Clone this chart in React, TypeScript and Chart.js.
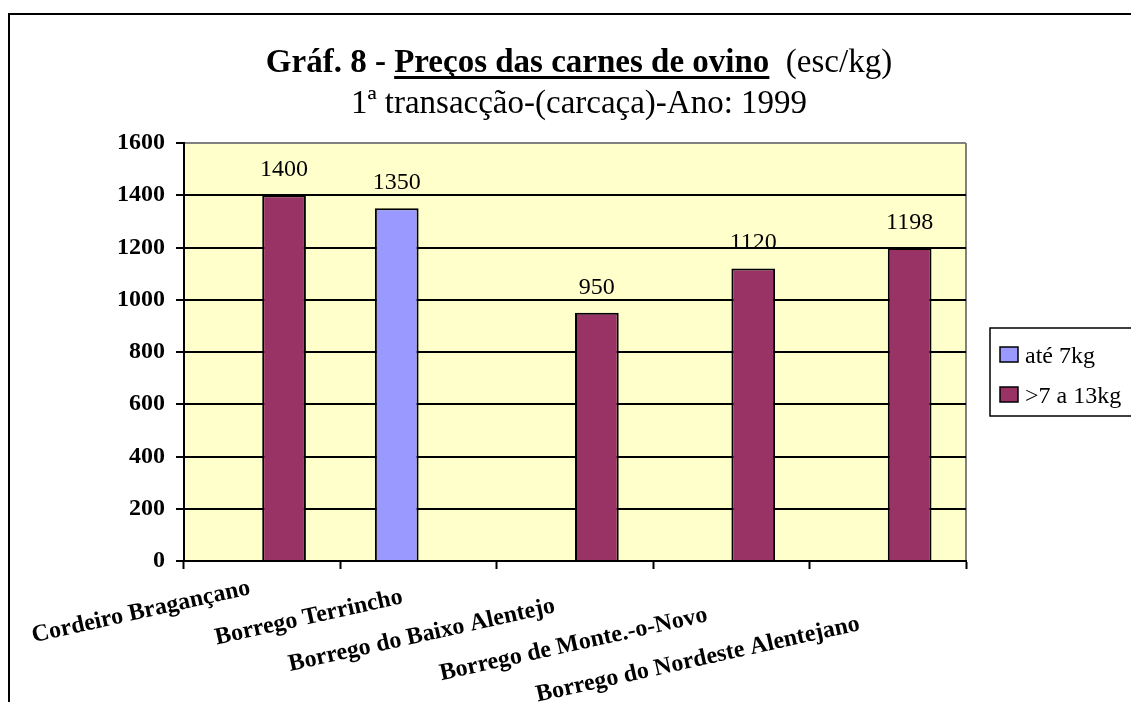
import React, { useEffect, useRef } from 'react';
import { Chart, registerables } from 'chart.js';

Chart.register(...registerables);

const categories = [
  'Cordeiro Bragançano',
  'Borrego Terrincho',
  'Borrego do Baixo Alentejo',
  'Borrego de Monte.-o-Novo',
  'Borrego do Nordeste Alentejano',
];
const seriesNames = ['até 7kg', '>7 a 13kg'];
const lightValues = [null, 1350, null, null, null];
const heavyValues = [1400, null, 950, 1120, 1198];
const yMin = 0;
const yMax = 1600;
const yStep = 200;
const titleBold = 'Gráf. 8 - ';
const titleUnderlined = 'Preços das carnes de ovino';
const titleNormal = '  (esc/kg)';
const subtitleText = '1ª transacção-(carcaça)-Ano: 1999';

const SERIF = '"Liberation Serif", "Times New Roman", serif';
const colors = ['#9999FF', '#993366'];

const decorPlugin = {
  id: 'decor',
  beforeDraw(chart: any) {
    const { ctx, chartArea: a } = chart;
    ctx.save();
    ctx.fillStyle = '#FFFFCC';
    ctx.fillRect(a.left, a.top, a.right - a.left, a.bottom - a.top);
    ctx.strokeStyle = '#808080';
    ctx.lineWidth = 2;
    ctx.beginPath();
    ctx.moveTo(a.right, a.top);
    ctx.lineTo(a.right, a.bottom);
    ctx.stroke();
    ctx.restore();
  },
  afterDatasetsDraw(chart: any) {
    const { ctx } = chart;
    ctx.save();
    ctx.font = `24px ${SERIF}`;
    ctx.fillStyle = '#000';
    ctx.textAlign = 'center';
    ctx.textBaseline = 'alphabetic';
    chart.data.datasets.forEach((ds: any, di: number) => {
      const meta = chart.getDatasetMeta(di);
      meta.data.forEach((el: any, i: number) => {
        const v = ds.data[i];
        if (v === null || v === undefined) return;
        ctx.fillText(String(v), el.x, el.y - 19);
      });
    });
    ctx.restore();
  },
  afterDraw(chart: any) {
    const { ctx, chartArea: a } = chart;
    ctx.save();
    ctx.fillStyle = '#000';
    ctx.textBaseline = 'alphabetic';
    // Title
    const cx = 579;
    ctx.font = `bold 33px ${SERIF}`;
    const wB = ctx.measureText(titleBold).width;
    const wU = ctx.measureText(titleUnderlined).width;
    ctx.font = `33px ${SERIF}`;
    const wN = ctx.measureText(titleNormal).width;
    let x = cx - (wB + wU + wN) / 2;
    const ty = 72;
    ctx.textAlign = 'left';
    ctx.font = `bold 33px ${SERIF}`;
    ctx.fillText(titleBold, x, ty);
    x += wB;
    ctx.fillText(titleUnderlined, x, ty);
    ctx.fillRect(x, ty + 4, wU, 3);
    x += wU;
    ctx.font = `33px ${SERIF}`;
    ctx.fillText(titleNormal, x, ty);
    // Subtitle
    ctx.font = `33px ${SERIF}`;
    ctx.textAlign = 'center';
    ctx.fillText(subtitleText, cx, 113);

    // Category labels (rotated)
    const xs = chart.scales.x;
    ctx.font = `bold 24px ${SERIF}`;
    ctx.textAlign = 'right';
    categories.forEach((lab, i) => {
      const px = xs.getPixelForValue(i) - 11 - 4 * i;
      const py = a.bottom + 33 + 9 * i;
      ctx.save();
      ctx.translate(px, py);
      ctx.rotate((-12.5 * Math.PI) / 180);
      ctx.fillText(lab, 0, 0);
      ctx.restore();
    });

    // Legend
    ctx.lineWidth = 1.5;
    ctx.strokeStyle = '#000';
    ctx.strokeRect(990, 328, 200, 88);
    ctx.font = `24px ${SERIF}`;
    ctx.textAlign = 'left';
    chart.data.datasets.forEach((ds: any, di: number) => {
      const y0 = 347 + di * 40;
      ctx.fillStyle = ds.backgroundColor;
      ctx.fillRect(1000, y0, 18, 15);
      ctx.strokeRect(1000, y0, 18, 15);
      ctx.fillStyle = '#000';
      ctx.fillText(ds.label, 1025, y0 + 16);
    });
    ctx.restore();
  },
};

export default function App() {
  const ref = useRef<HTMLCanvasElement | null>(null);
  useEffect(() => {
    if (!ref.current) return;
    const chart = new Chart(ref.current, {
      type: 'bar',
      data: {
        labels: categories,
        datasets: [
          {
            label: seriesNames[0],
            data: lightValues,
            backgroundColor: colors[0],
            borderColor: '#000',
            borderWidth: 2,
          },
          {
            label: seriesNames[1],
            data: heavyValues,
            backgroundColor: colors[1],
            borderColor: '#000',
            borderWidth: 2,
          },
        ],
      } as any,
      options: {
        animation: false,
        responsive: false,
        maintainAspectRatio: false,
        layout: { padding: { left: 0, right: 165, top: 143, bottom: 0 } },
        datasets: { bar: { categoryPercentage: 0.559, barPercentage: 1 } },
        plugins: {
          legend: { display: false },
          title: { display: false },
          tooltip: { enabled: false },
        },
        scales: {
          x: {
            ticks: { display: false },
            grid: {
              offset: true,
              drawOnChartArea: false,
              drawTicks: true,
              tickLength: 8,
              tickColor: '#000',
              tickWidth: 2,
              color: '#000',
            },
            border: { color: '#000', width: 2 },
            afterFit: (s: any) => {
              s.height = 141;
            },
          },
          y: {
            min: yMin,
            max: yMax,
            ticks: {
              stepSize: yStep,
              color: '#000',
              padding: 11,
              font: { family: SERIF, size: 24, weight: 'bold' },
              callback: (v: any) => String(v),
            },
            grid: {
              color: (c: any) => (c.tick && c.tick.value === yMax ? '#808080' : '#000'),
              lineWidth: 2,
              tickLength: 8,
              tickColor: '#000',
              tickWidth: 2,
            },
            border: { color: '#000', width: 2 },
            afterFit: (s: any) => {
              s.width = 184;
            },
          },
        },
      } as any,
      plugins: [decorPlugin],
    });
    return () => chart.destroy();
  }, []);
  return (
    <div style={{ position: 'fixed', left: 0, top: 0, width: 1131, height: 702, overflow: 'hidden', background: '#fff' }}>
      <div
        style={{
          position: 'absolute',
          left: 8,
          top: 13,
          width: 1300,
          height: 900,
          border: '2px solid #000',
        }}
      />
      <canvas ref={ref} width={1131} height={702} style={{ position: 'absolute', left: 0, top: 0 }} />
    </div>
  );
}
